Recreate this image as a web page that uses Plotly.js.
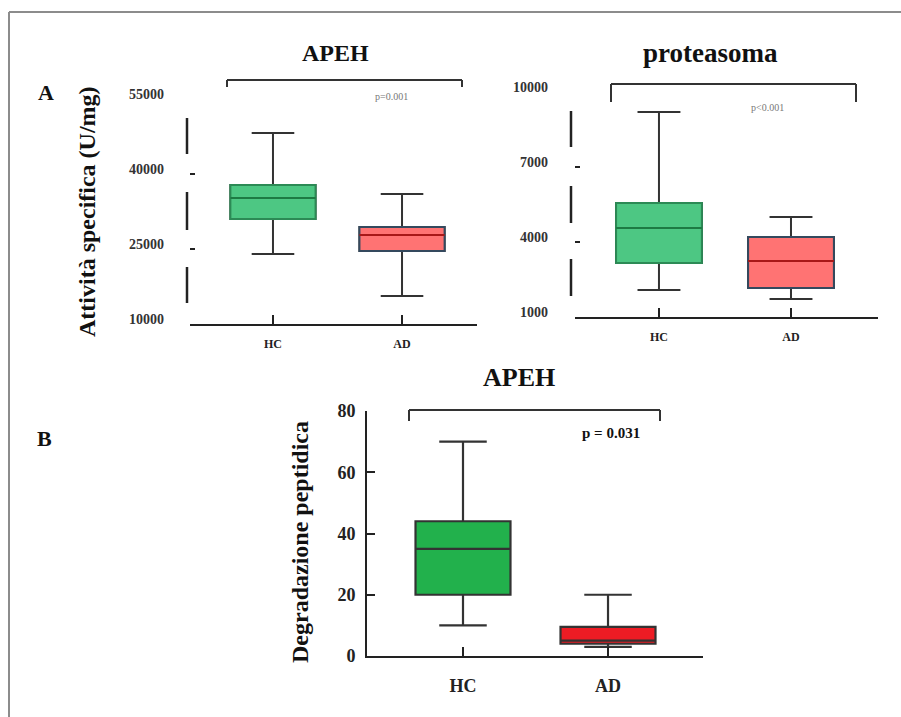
<!DOCTYPE html>
<html>
<head>
<meta charset="utf-8">
<script src="https://cdn.plot.ly/plotly-3.0.1.min.js"></script>
<style>html,body{margin:0;padding:0;background:#fff;}#chart{width:901px;height:717px;}</style>
</head>
<body>
<div id="chart"></div>
<script>
// ---------- data ----------
const groups = ['HC', 'AD'];

// Panel A – APEH, specific activity (U/mg)
const apehLower  = [24000, 15600];
const apehQ1     = [31000, 24600];
const apehMedian = [35200, 27800];
const apehQ3     = [37800, 29400];
const apehUpper  = [48200, 36000];
const apehTicks  = [10000, 25000, 40000, 55000];

// Panel A – proteasoma, specific activity (U/mg)
const protLower  = [2080, 1720];
const protQ1     = [3160, 2160];
const protMedian = [4560, 3240];
const protQ3     = [5560, 4200];
const protUpper  = [9200, 5000];
const protTicks  = [1000, 4000, 7000, 10000];

// Panel B – APEH, peptide degradation
const degLower  = [10, 3];
const degQ1     = [20, 4];
const degMedian = [35, 5];
const degQ3     = [44, 9.5];
const degUpper  = [70, 20];
const degTicks  = [0, 20, 40, 60, 80];

const pTexts = ['p=0.001', 'p<0.001', 'p = 0.031'];
const titles = ['APEH', 'proteasoma', 'APEH'];
const yTitles = ['Attività specifica (U/mg)', 'Degradazione peptidica'];

// ---------- layout helpers ----------
const W = 901, H = 717;
const px = v => v / W;
const py = v => 1 - v / H;
const SERIF = '"Liberation Serif", "Times New Roman", serif';

const topFill   = ['#4dc783', '#ff7373'];
const topOutline= ['#2c8a55', '#34495e'];
const topMedian = ['#1d7a43', '#a81818'];
const botFill   = ['#22b14c', '#ed1c24'];

const traces = [];
function addLayered(xa, ya, lo, q1, med, q3, up, fills, outlines, medians, width) {
  groups.forEach((g, i) => {
    // whiskers
    traces.push({type: 'box', x: [g], q1: [q1[i]], median: [med[i]], q3: [q3[i]],
      lowerfence: [lo[i]], upperfence: [up[i]], xaxis: xa, yaxis: ya,
      fillcolor: fills[i], line: {color: '#333333', width: 2}, width: width, whiskerwidth: 0.5,
      boxpoints: false, showlegend: false, hoverinfo: 'skip'});
    // box outline
    traces.push({type: 'box', x: [g], q1: [q1[i]], median: [med[i]], q3: [q3[i]],
      lowerfence: [q1[i]], upperfence: [q3[i]], xaxis: xa, yaxis: ya,
      fillcolor: fills[i], line: {color: outlines[i], width: 2}, width: width, whiskerwidth: 0,
      boxpoints: false, showlegend: false, hoverinfo: 'skip'});
    // median
    traces.push({type: 'box', x: [g], q1: [med[i]], median: [med[i]], q3: [med[i]],
      lowerfence: [med[i]], upperfence: [med[i]], xaxis: xa, yaxis: ya,
      fillcolor: 'rgba(0,0,0,0)', line: {color: medians[i], width: 2}, width: width, whiskerwidth: 0,
      boxpoints: false, showlegend: false, hoverinfo: 'skip'});
  });
}
addLayered('x', 'y', apehLower, apehQ1, apehMedian, apehQ3, apehUpper, topFill, topOutline, topMedian, 0.66);
addLayered('x2', 'y2', protLower, protQ1, protMedian, protQ3, protUpper, topFill, topOutline, topMedian, 0.65);
groups.forEach((g, i) => {
  traces.push({type: 'box', x: [g], q1: [degQ1[i]], median: [degMedian[i]], q3: [degQ3[i]],
    lowerfence: [degLower[i]], upperfence: [degUpper[i]], xaxis: 'x3', yaxis: 'y3',
    fillcolor: botFill[i], line: {color: '#333333', width: 2.2}, width: 0.655, whiskerwidth: 0.5,
    boxpoints: false, showlegend: false, hoverinfo: 'skip'});
});

function xAxis(d0, d1, r0, r1, anchor, fsize, standoff) {
  return {domain: [px(d0), px(d1)], range: [r0, r1], type: 'category', categoryarray: groups,
    anchor: anchor, showline: true, linecolor: '#222', linewidth: 2, ticks: 'inside', ticklen: 9,
    tickwidth: 2, tickcolor: '#222', showgrid: false, zeroline: false, fixedrange: true,
    ticklabelstandoff: standoff,
    tickfont: {family: SERIF, size: fsize, color: '#222', weight: 'bold'}};
}
function yAxis(d0, d1, range, ticks, anchor, opts) {
  return Object.assign({domain: [py(d1), py(d0)], range: range, tickvals: ticks, ticktext: ticks.map(String),
    anchor: anchor, showline: false, ticks: 'inside', ticklen: 5, tickwidth: 2.5, tickcolor: '#222',
    showgrid: false, zeroline: false, fixedrange: true, ticklabelshift: -5,
    tickfont: {family: SERIF, size: 14, color: '#333', weight: 'bold'}}, opts || {});
}

const layout = {
  width: W, height: H, margin: {l: 0, r: 0, t: 0, b: 0},
  paper_bgcolor: '#ffffff', plot_bgcolor: 'rgba(0,0,0,0)', showlegend: false, boxmode: 'overlay',
  xaxis:  xAxis(190, 477, -0.643, 1.581, 'y', 12, 8),
  yaxis:  yAxis(99, 324, [10000, 55000], apehTicks, 'x', {ticklabelstandoff: 25}),
  xaxis2: xAxis(575, 878, -0.636, 1.659, 'y2', 12, 8),
  yaxis2: yAxis(92, 317, [1000, 10000], protTicks, 'x2', {ticklabelstandoff: 26}),
  xaxis3: xAxis(367, 703, -0.662, 1.655, 'y3', 18, 12),
  yaxis3: yAxis(411, 656, [0, 80], degTicks, 'x3', {showline: true, linecolor: '#222', linewidth: 2,
    ticklen: 8, tickwidth: 2, ticklabelstandoff: 6, ticklabelshift: 0,
    tickfont: {family: SERIF, size: 18, color: '#222', weight: 'bold'}}),
  annotations: [],
  shapes: []
};

function ann(text, x, y, size, opts) {
  layout.annotations.push(Object.assign({text: text, x: px(x), y: py(y), xref: 'paper', yref: 'paper',
    xanchor: 'center', yanchor: 'middle', showarrow: false,
    font: {family: SERIF, size: size, color: '#111', weight: 'bold'}}, opts || {}));
}
ann(titles[0], 335, 53, 24);
ann(titles[1], 710, 53, 27);
ann(titles[2], 519, 377, 26);
ann('A', 46, 93, 22);
ann('B', 44, 438, 22);
ann(yTitles[0], 87, 212, 24, {textangle: -90});
ann(yTitles[1], 300, 542, 24, {textangle: -90});
ann(pTexts[0], 391, 97, 10, {font: {family: SERIF, size: 10, color: '#777'}});
ann(pTexts[1], 767, 107, 10, {font: {family: SERIF, size: 10, color: '#777'}});
ann(pTexts[2], 611, 433, 15);

function line(x0, y0, x1, y1, color, width) {
  layout.shapes.push({type: 'line', xref: 'paper', yref: 'paper',
    x0: px(x0), y0: py(y0), x1: px(x1), y1: py(y1), line: {color: color, width: width}});
}
// frame
line(9, 12, 9, 717, '#8c8c8c', 2);
line(9, 12, 901, 12, '#8c8c8c', 2);
// brackets
function bracket(x0, x1, yt, yb) {
  line(x0, yb, x0, yt, '#333', 2);
  line(x0, yt, x1, yt, '#333', 2);
  line(x1, yt, x1, yb, '#333', 2);
}
bracket(227, 462, 80, 87);
bracket(611, 856, 84, 102);
bracket(409, 660, 410, 421);
// broken y axes (panel A)
[[118, 154], [192, 230], [267, 303]].forEach(s => line(187, s[0], 187, s[1], '#222', 2.5));
[[111, 147], [186, 223], [259, 296]].forEach(s => line(571, s[0], 571, s[1], '#222', 2.5));

Plotly.newPlot('chart', traces, layout, {displayModeBar: false, staticPlot: true});
</script>
</body>
</html>
